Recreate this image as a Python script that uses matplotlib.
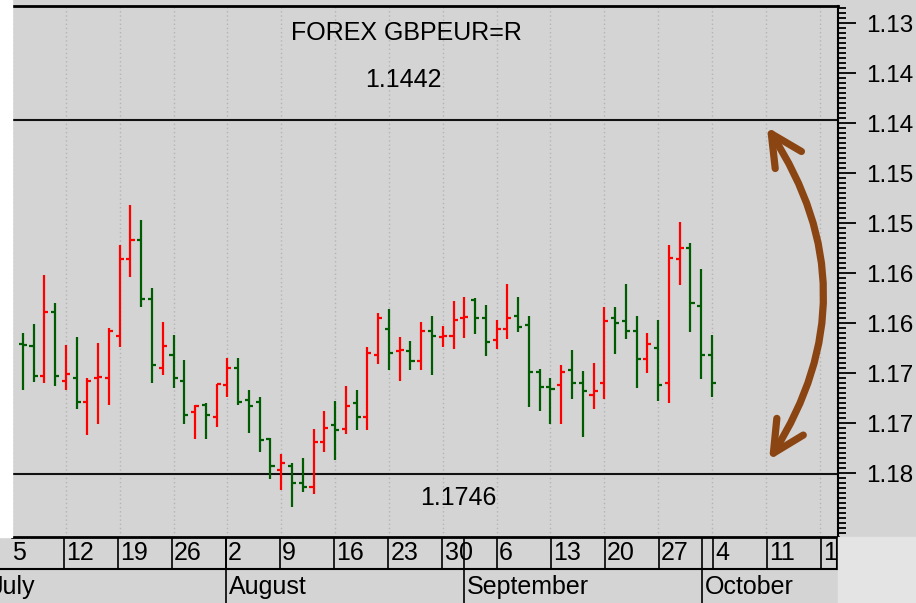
import numpy as np
import pandas as pd
import matplotlib
matplotlib.use("Agg")
import matplotlib.pyplot as plt
from matplotlib.patches import FancyArrowPatch, Rectangle
from matplotlib.ticker import FixedLocator, MultipleLocator

plt.rcParams['font.family'] = ['Liberation Sans', 'DejaVu Sans']

# daily bars, Jul 6 - Oct 4 2021 (axis is inverted, like the original)
start = "2021-07-05"
dates = pd.bdate_range("2021-07-06", "2021-10-04")
opens = [1.1671, 1.1673, 1.1703, 1.1639, 1.1708, 1.1705, 1.1729, 1.1705, 1.1705, 1.1663,
         1.1586, 1.1567, 1.1626, 1.1695, 1.1682, 1.1708, 1.1739, 1.1732, 1.1744, 1.1712,
         1.1695, 1.1727, 1.1729, 1.1766, 1.1797, 1.1793, 1.1810, 1.1814, 1.1769, 1.1752,
         1.1756, 1.1730, 1.1744, 1.1682, 1.1656, 1.1678, 1.1678, 1.1688, 1.1658, 1.1664,
         1.1663, 1.1645, 1.1627, 1.1645, 1.1667, 1.1656, 1.1643, 1.1652, 1.1699, 1.1714,
         1.1712, 1.1697, 1.1710, 1.1722, 1.1710, 1.1645, 1.1648, 1.1658, 1.1686, 1.1675,
         1.1710, 1.1586, 1.1575, 1.1633, 1.1682]
closes = [1.1672, 1.1703, 1.1639, 1.1703, 1.1701, 1.1729, 1.1708, 1.1704, 1.1658, 1.1586,
          1.1567, 1.1626, 1.1692, 1.1673, 1.1705, 1.1742, 1.1733, 1.1742, 1.1711, 1.1695,
          1.1729, 1.1733, 1.1767, 1.1793, 1.1790, 1.1810, 1.1814, 1.1769, 1.1755, 1.1757,
          1.1733, 1.1744, 1.1680, 1.1645, 1.1680, 1.1677, 1.1688, 1.1658, 1.1663, 1.1663,
          1.1647, 1.1644, 1.1645, 1.1669, 1.1656, 1.1645, 1.1654, 1.1699, 1.1714, 1.1716,
          1.1699, 1.1710, 1.1718, 1.1718, 1.1648, 1.1650, 1.1658, 1.1686, 1.1671, 1.1712,
          1.1585, 1.1575, 1.1630, 1.1682, 1.1710]
lows = [1.1660, 1.1651, 1.1602, 1.1630, 1.1672, 1.1664, 1.1705, 1.1670, 1.1655, 1.1572,
        1.1532, 1.1547, 1.1615, 1.1649, 1.1662, 1.1687, 1.1732, 1.1730, 1.1711, 1.1685,
        1.1685, 1.1717, 1.1724, 1.1765, 1.1781, 1.1790, 1.1785, 1.1756, 1.1738, 1.1728,
        1.1713, 1.1717, 1.1674, 1.1640, 1.1636, 1.1664, 1.1668, 1.1649, 1.1643, 1.1653,
        1.1628, 1.1624, 1.1625, 1.1632, 1.1647, 1.1611, 1.1624, 1.1643, 1.1696, 1.1705,
        1.1692, 1.1677, 1.1698, 1.1690, 1.1634, 1.1634, 1.1611, 1.1643, 1.1660, 1.1647,
        1.1572, 1.1549, 1.1570, 1.1596, 1.1662]
highs = [1.1717, 1.1709, 1.1710, 1.1713, 1.1717, 1.1736, 1.1762, 1.1751, 1.1732, 1.1674,
         1.1604, 1.1634, 1.1710, 1.1702, 1.1715, 1.1751, 1.1766, 1.1766, 1.1754, 1.1724,
         1.1732, 1.1760, 1.1779, 1.1806, 1.1817, 1.1834, 1.1819, 1.1821, 1.1779, 1.1787,
         1.1761, 1.1757, 1.1757, 1.1691, 1.1697, 1.1708, 1.1697, 1.1697, 1.1702, 1.1674,
         1.1676, 1.1665, 1.1661, 1.1683, 1.1676, 1.1666, 1.1659, 1.1734, 1.1738, 1.1751,
         1.1751, 1.1726, 1.1764, 1.1736, 1.1726, 1.1681, 1.1666, 1.1715, 1.1700, 1.1728,
         1.1730, 1.1612, 1.1659, 1.1706, 1.1724]

level_values = [1.1447, 1.1801]
level_labels = ["1.1442", "1.1746"]
title = "FOREX GBPEUR=R"
month_names = ["July", "August", "September", "October"]
month_firsts = ["2021-07-01", "2021-08-02", "2021-09-01", "2021-10-01"]
yticks = [1.135, 1.140, 1.145, 1.150, 1.155, 1.160, 1.165, 1.170, 1.175, 1.180]

opens, closes = np.array(opens), np.array(closes)
lows, highs = np.array(lows), np.array(highs)
pos = np.busday_count(start, dates.values.astype('datetime64[D]'))
mondays = pd.date_range(start, "2021-10-18", freq="W-MON")
mpos = np.busday_count(start, mondays.values.astype('datetime64[D]'))
month_pos = np.busday_count(start, np.array(month_firsts, dtype='datetime64[D]'))

W, H = 916, 603
bg = '#d4d4d4'
fig = plt.figure(figsize=(W / 100, H / 100), dpi=100, facecolor=bg)
fig.patches.append(Rectangle((0, 66 / H), 12 / W, 537 / H, transform=fig.transFigure,
                             color='white', zorder=0))
fig.patches.append(Rectangle((838 / W, 0), 78 / W, 66 / H, transform=fig.transFigure,
                             color='#e4e4e4', zorder=0))

ax = fig.add_axes([12 / W, 66 / H, 826 / W, 531 / H])
ax.set_facecolor(bg)
ax.set_xlim(0.443, 76.7)
ax.set_ylim(1.1864, 1.1333)

green, red = '#005c00', '#ff0000'
cols = np.where(closes >= opens, green, red)
ax.vlines(pos, lows, highs, colors=cols, lw=1.6, zorder=3)
ax.hlines(opens, pos - 0.38, pos, colors=cols, lw=1.6, zorder=3)
ax.hlines(closes, pos, pos + 0.38, colors=cols, lw=1.6, zorder=3)

for v in level_values:
    ax.axhline(v, color='#111111', lw=1.5, zorder=2)

ax.set_xticks(mpos)
ax.grid(axis='x', color='#b4b4b4', lw=1, linestyle=(0, (1, 2)))
ax.tick_params(axis='x', length=0, labelbottom=False)

# labels show only the first four characters, as on the original
ax.yaxis.tick_right()
ax.yaxis.set_major_locator(FixedLocator(yticks))
ax.yaxis.set_minor_locator(MultipleLocator(0.0005))
ax.yaxis.set_major_formatter(lambda v, p: f"{v:.3f}"[:4])
ax.tick_params(axis='y', which='major', length=13, width=1.3, pad=7.5, labelsize=17.5)
ax.tick_params(axis='y', which='minor', length=5.5, width=1.3)
ax.spines['left'].set_visible(False)
ax.spines['top'].set_linewidth(2)
ax.spines['right'].set_linewidth(1.5)
ax.spines['bottom'].set_linewidth(2)

arrow = FancyArrowPatch((70.1, 1.1454), (70.3, 1.1787), connectionstyle='arc3,rad=-0.32',
                        arrowstyle='<->,head_length=1.5,head_width=0.75', mutation_scale=15,
                        lw=5.2, color='#8b4513', shrinkA=0, shrinkB=0, zorder=4)
ax.add_patch(arrow)

fig.text(406 / W, 1 - 33 / H, title, fontsize=18, ha='center', va='center')
fig.text(403 / W, 1 - 80 / H, level_labels[0], fontsize=18, ha='center', va='center')
fig.text(458 / W, 1 - 498 / H, level_labels[1], fontsize=18, ha='center', va='center')

# date rows under the chart
ax2 = fig.add_axes([0, 0, 838 / W, 66 / H])
ax2.set_facecolor(bg)
ax2.set_xlim(-0.665, 76.73)
ax2.set_ylim(0, 66)
ax2.axis('off')
ax2.axhline(34, color='black', lw=1.5)
ax2.axvline(76.6, ymin=34 / 66, color='black', lw=1.5)
off = 0.2
for m, d in zip(mpos, mondays):
    if m > 0:
        ax2.vlines(m + off, 34, 66, color='black', lw=1.2)
    ax2.text(m + off + 0.2, 50, str(d.day), fontsize=18, ha='left', va='center', clip_on=True)
for m, name in zip(month_pos, month_names):
    ax2.vlines(m + off, 0, 66, color='black', lw=1.2)
    ax2.text(m + off + 0.25, 16, name, fontsize=18, ha='left', va='center', clip_on=True)

fig.savefig("out.png", dpi=100, facecolor=fig.get_facecolor())
